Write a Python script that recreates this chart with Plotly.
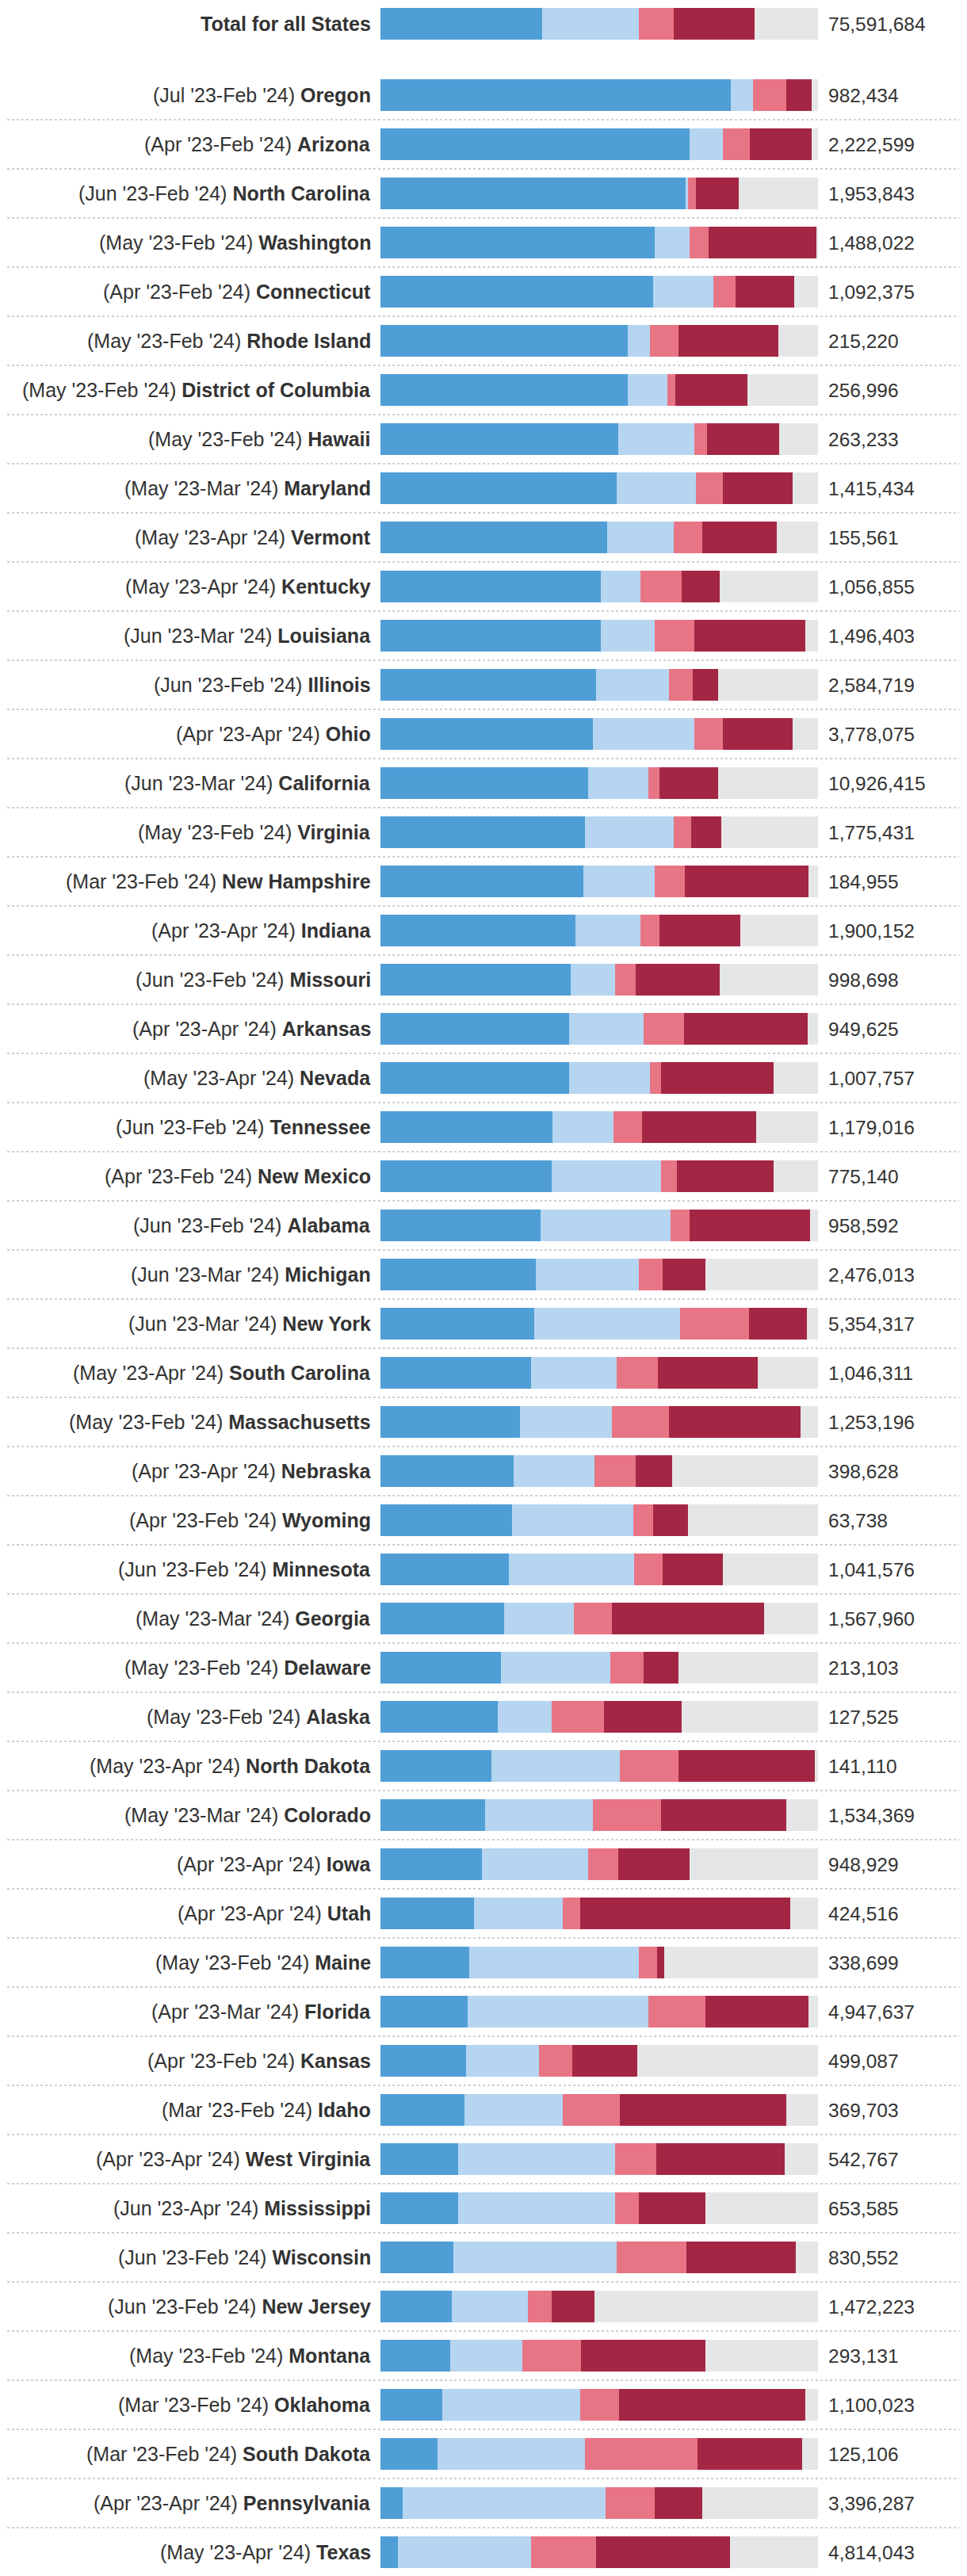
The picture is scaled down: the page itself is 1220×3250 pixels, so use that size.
import plotly.graph_objects as go

# ---- data ----
periods = ["", "Jul '23-Feb '24", "Apr '23-Feb '24", "Jun '23-Feb '24", "May '23-Feb '24", "Apr '23-Feb '24",
           "May '23-Feb '24", "May '23-Feb '24", "May '23-Feb '24", "May '23-Mar '24", "May '23-Apr '24",
           "May '23-Apr '24", "Jun '23-Mar '24", "Jun '23-Feb '24", "Apr '23-Apr '24", "Jun '23-Mar '24",
           "May '23-Feb '24", "Mar '23-Feb '24", "Apr '23-Apr '24", "Jun '23-Feb '24", "Apr '23-Apr '24",
           "May '23-Apr '24", "Jun '23-Feb '24", "Apr '23-Feb '24", "Jun '23-Feb '24", "Jun '23-Mar '24",
           "Jun '23-Mar '24", "May '23-Apr '24", "May '23-Feb '24", "Apr '23-Apr '24", "Apr '23-Feb '24",
           "Jun '23-Feb '24", "May '23-Mar '24", "May '23-Feb '24", "May '23-Feb '24", "May '23-Apr '24",
           "May '23-Mar '24", "Apr '23-Apr '24", "Apr '23-Apr '24", "May '23-Feb '24", "Apr '23-Mar '24",
           "Apr '23-Feb '24", "Mar '23-Feb '24", "Apr '23-Apr '24", "Jun '23-Apr '24", "Jun '23-Feb '24",
           "Jun '23-Feb '24", "May '23-Feb '24", "Mar '23-Feb '24", "Mar '23-Feb '24", "Apr '23-Apr '24",
           "May '23-Apr '24"]
states = ["Total for all States", "Oregon", "Arizona", "North Carolina", "Washington", "Connecticut",
          "Rhode Island", "District of Columbia", "Hawaii", "Maryland", "Vermont",
          "Kentucky", "Louisiana", "Illinois", "Ohio", "California",
          "Virginia", "New Hampshire", "Indiana", "Missouri", "Arkansas",
          "Nevada", "Tennessee", "New Mexico", "Alabama", "Michigan",
          "New York", "South Carolina", "Massachusetts", "Nebraska", "Wyoming",
          "Minnesota", "Georgia", "Delaware", "Alaska", "North Dakota",
          "Colorado", "Iowa", "Utah", "Maine", "Florida",
          "Kansas", "Idaho", "West Virginia", "Mississippi", "Wisconsin",
          "New Jersey", "Montana", "Oklahoma", "South Dakota", "Pennsylvania",
          "Texas"]
totals = ["75,591,684", "982,434", "2,222,599", "1,953,843", "1,488,022", "1,092,375",
          "215,220", "256,996", "263,233", "1,415,434", "155,561",
          "1,056,855", "1,496,403", "2,584,719", "3,778,075", "10,926,415",
          "1,775,431", "184,955", "1,900,152", "998,698", "949,625",
          "1,007,757", "1,179,016", "775,140", "958,592", "2,476,013",
          "5,354,317", "1,046,311", "1,253,196", "398,628", "63,738",
          "1,041,576", "1,567,960", "213,103", "127,525", "141,110",
          "1,534,369", "948,929", "424,516", "338,699", "4,947,637",
          "499,087", "369,703", "542,767", "653,585", "830,552",
          "1,472,223", "293,131", "1,100,023", "125,106", "3,396,287",
          "4,814,043"]

renewed_ex_parte = [37.0, 80.1, 70.6, 69.9, 62.7, 62.4, 56.5, 56.5, 54.3, 54.0, 51.8,
                    50.4, 50.4, 49.3, 48.6, 47.5, 46.8, 46.3, 44.5, 43.5, 43.1,
                    43.1, 39.4, 39.1, 36.6, 35.5, 35.1, 34.4, 31.9, 30.4, 30.1,
                    29.3, 28.3, 27.5, 26.8, 25.3, 23.9, 23.2, 21.4, 20.2, 19.9,
                    19.6, 19.2, 17.7, 17.7, 16.6, 16.3, 15.9, 14.1, 13.0, 5.0, 4.0]
renewed_form = [22.1, 5.1, 7.7, 0.3, 7.9, 13.7, 5.1, 9.1, 17.4, 18.1, 15.2,
                9.0, 12.3, 16.7, 23.2, 13.8, 20.2, 16.4, 14.9, 10.2, 17.1,
                18.5, 13.8, 25.1, 29.7, 23.6, 33.3, 19.6, 21.0, 18.5, 27.6,
                28.7, 15.9, 25.1, 12.3, 29.4, 24.7, 24.3, 20.3, 38.8, 41.3,
                16.6, 22.5, 35.9, 35.9, 37.4, 17.4, 16.6, 31.5, 33.8, 46.4, 30.4]
disenrolled_ineligible = [7.9, 7.6, 6.1, 1.9, 4.4, 5.1, 6.5, 1.8, 2.9, 6.2, 6.6,
                          9.4, 9.0, 5.4, 6.5, 2.5, 4.0, 6.9, 4.3, 4.6, 9.1,
                          2.6, 6.5, 3.6, 4.3, 5.4, 15.9, 9.4, 13.1, 9.4, 4.7,
                          6.5, 8.7, 7.6, 12.0, 13.4, 15.6, 6.9, 4.0, 4.3, 13.0,
                          7.7, 13.0, 9.4, 5.4, 15.9, 5.4, 13.4, 9.0, 25.7, 11.3, 14.9]
disenrolled_procedural = [18.5, 5.8, 14.1, 9.8, 24.6, 13.4, 22.8, 16.4, 16.6, 15.9, 17.0,
                          8.7, 25.4, 5.8, 15.9, 13.4, 6.9, 28.3, 18.5, 19.2, 28.3,
                          25.7, 26.1, 22.1, 27.6, 9.7, 13.1, 22.8, 30.1, 8.4, 7.9,
                          13.8, 34.8, 8.0, 17.7, 31.2, 28.6, 16.3, 47.9, 1.5, 23.6,
                          14.8, 38.1, 29.4, 15.2, 25.0, 9.8, 28.3, 42.5, 23.9, 10.9, 30.5]
pending = [14.5, 1.4, 1.5, 18.1, 0.4, 5.4, 9.1, 16.2, 8.8, 5.8, 9.4,
           22.5, 2.9, 22.8, 5.8, 22.8, 22.1, 2.1, 17.8, 22.5, 2.4,
           10.1, 14.2, 10.1, 1.8, 25.8, 2.6, 13.8, 3.9, 33.3, 29.7,
           21.7, 12.3, 31.8, 31.2, 0.7, 7.2, 29.3, 6.4, 35.2, 2.2,
           41.3, 7.2, 7.6, 25.8, 5.1, 51.1, 25.8, 2.9, 3.6, 26.4, 20.2]

series = [
    ("Renewed (ex parte)", renewed_ex_parte, "#509ed6"),
    ("Renewed (form)", renewed_form, "#b5d5f0"),
    ("Disenrolled (ineligible)", disenrolled_ineligible, "#e87586"),
    ("Disenrolled (procedural)", disenrolled_procedural, "#a32744"),
    ("Pending", pending, "#e5e6e8"),
]

# ---- layout constants (figure coords; page body adds an 8px offset) ----
W, H = 1212, 3242
LEFT, RIGHT = 472, 1024
TOP_TOTAL = 22
FIRST_ROW = 112
PITCH = 62
BAR_H = 40
FONT = "Liberation Sans, Arial, Helvetica, sans-serif"
TXT = "#333333"

ypos = [TOP_TOTAL] + [FIRST_ROW + PITCH * i for i in range(len(states) - 1)]

fig = go.Figure()
for name, vals, col in series:
    fig.add_trace(go.Bar(
        x=vals, y=ypos, orientation="h", name=name, width=BAR_H,
        marker=dict(color=col, line=dict(width=0)),
        hovertemplate="%{x:.1f}%<extra>" + name + "</extra>",
    ))

annotations = []
for i, (p, s, t) in enumerate(zip(periods, states, totals)):
    label = f"<b>{s}</b>" if not p else f"({p}) <b>{s}</b>"
    annotations.append(dict(x=0, xref="paper", y=ypos[i], yref="y", text=label,
                            xanchor="right", yanchor="middle", xshift=-10, showarrow=False,
                            font=dict(size=25, color=TXT, family=FONT)))
    annotations.append(dict(x=1, xref="paper", y=ypos[i], yref="y", text=t,
                            xanchor="left", yanchor="middle", xshift=11, showarrow=False,
                            font=dict(size=24.5, color=TXT, family=FONT)))

pw = RIGHT - LEFT
shapes = []
for i in range(1, len(states) - 1):
    yy = (ypos[i] + ypos[i + 1]) / 2
    shapes.append(dict(type="line", xref="paper", yref="y",
                       x0=(1 - LEFT) / pw, x1=(1202 - LEFT) / pw, y0=yy, y1=yy,
                       line=dict(color="#cfcfcf", width=2, dash="dot"), layer="below"))

fig.update_layout(
    width=W, height=H, barmode="stack", bargap=0,
    margin=dict(l=LEFT, r=W - RIGHT, t=0, b=0, pad=0),
    paper_bgcolor="white", plot_bgcolor="white",
    showlegend=False,
    xaxis=dict(range=[0, 100], visible=False, fixedrange=True),
    yaxis=dict(range=[H, 0], visible=False, fixedrange=True),
    annotations=annotations, shapes=shapes,
    font=dict(family=FONT, color=TXT),
)

fig.write_html("out.html")
